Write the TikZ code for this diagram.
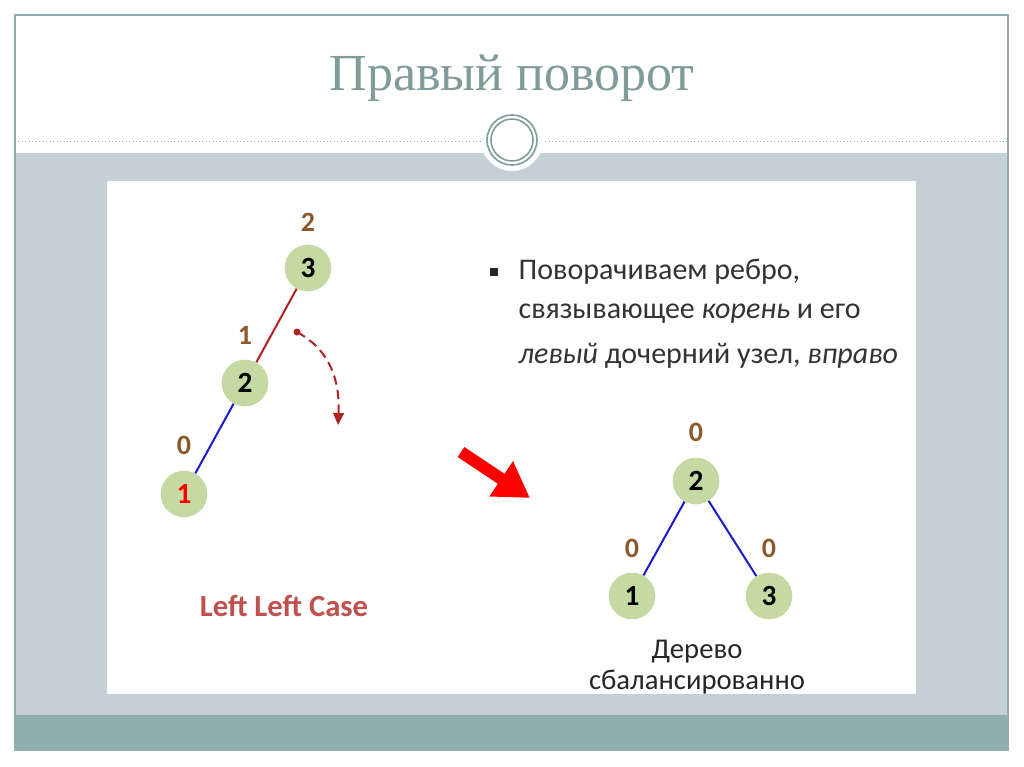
\documentclass[tikz,border=0pt]{standalone}
\usepackage{fontspec}
\setmainfont{Carlito}
\newfontfamily\titlefont{Liberation Serif}
\usetikzlibrary{arrows.meta}
\definecolor{frame}{HTML}{8FAEAF}
\definecolor{band}{HTML}{C5D0D6}
\definecolor{ttl}{HTML}{7F9B9A}
\definecolor{ngreen}{HTML}{C5D9A2}
\definecolor{brown}{HTML}{8B5A2B}
\definecolor{eblue}{HTML}{1A1ACC}
\definecolor{ered}{HTML}{B22222}
\definecolor{llc}{HTML}{C0504D}
\tikzset{
 tn/.style={circle,fill=ngreen,minimum size=35pt,inner sep=0pt,font=\fontsize{22}{22}\selectfont\bfseries},
 bal/.style={text=brown,font=\fontsize{21}{21}\selectfont\bfseries},
 eb/.style={eblue,line width=1.5pt},
 txt/.style={anchor=west,font=\fontsize{22.5}{22.5}\selectfont,text=black!80}
}
\begin{document}
\begin{tikzpicture}[x=0.75pt,y=-0.75pt]
\useasboundingbox (0,0) rectangle (1024,767);
\fill[white] (0,0) rectangle (1024,767);
\fill[band] (15,153) rectangle (1008,715);
\fill[frame] (15,715) rectangle (1008,750);
\draw[frame,line width=0.8pt] (15,15) rectangle (1008,750);
\draw[frame,dotted,line width=0.6pt] (15,141) -- (1008,141);
\fill[white] (512,140) circle (31);
\draw[ttl,line width=1.2pt] (512,140) circle (25);
\draw[ttl,line width=1.2pt] (512,140) circle (21);
\node[text=ttl,font=\titlefont\fontsize{39}{39}\selectfont] (title) at (512,78) {Правый поворот};
\fill[white] (107,181) rectangle (916,694);
% left tree
\node[tn] (a3) at (308,268) {3};
\node[tn] (a2) at (245,383) {2};
\node[tn,text=red] (a1) at (184,494) {1};
\node[bal] (b3) at (308,222) {2};
\node[bal] (b2) at (245,335) {1};
\node[bal] (b1) at (184,445) {0};
\draw[ered,line width=1.5pt] (a3) -- (a2);
\draw[eb] (a2) -- (a1);
\coordinate (ds) at (297,332);
\coordinate (de) at (338,425);
\fill[ered] (ds) circle (3.5);
\draw[ered,dash pattern=on 7pt off 4pt,line width=1.5pt,-{Triangle[length=9pt,width=8pt]}] (ds) .. controls (330,350) and (340,380) .. (de);
\node[text=llc,font=\fontsize{23}{23}\selectfont\bfseries] (case) at (284,606) {Left Left Case};
% big arrow
\coordinate (ra) at (461,452);
\coordinate (rb) at (530,498);
\draw[red,line width=9pt,-{Triangle[length=26pt,width=30pt]}] (ra) -- (rb);
% text
\node[fill=black!85,minimum size=6pt,inner sep=0pt] (bul) at (494,272) {};
\node[txt] (t1) at (514,272) {Поворачиваем ребро,};
\node[txt] (t2) at (514,314) {связывающее \textit{корень} и его};
\node[txt] (t3) at (514,356) {\textit{левый} дочерний узел, \textit{вправо}};
% right tree
\node[tn] (r2) at (696,481) {2};
\node[tn] (r1) at (632,596) {1};
\node[tn] (r3) at (769,596) {3};
\node[bal] (c2) at (696,432) {0};
\node[bal] (c1) at (632,548) {0};
\node[bal] (c3) at (769,548) {0};
\draw[eb] (r2) -- (r1);
\draw[eb] (r2) -- (r3);
\node[font=\fontsize{21.5}{21.5}\selectfont,text=black!85,align=center] (bal) at (697,667) {Дерево\\[2pt]сбалансированно};
\end{tikzpicture}
\end{document}
